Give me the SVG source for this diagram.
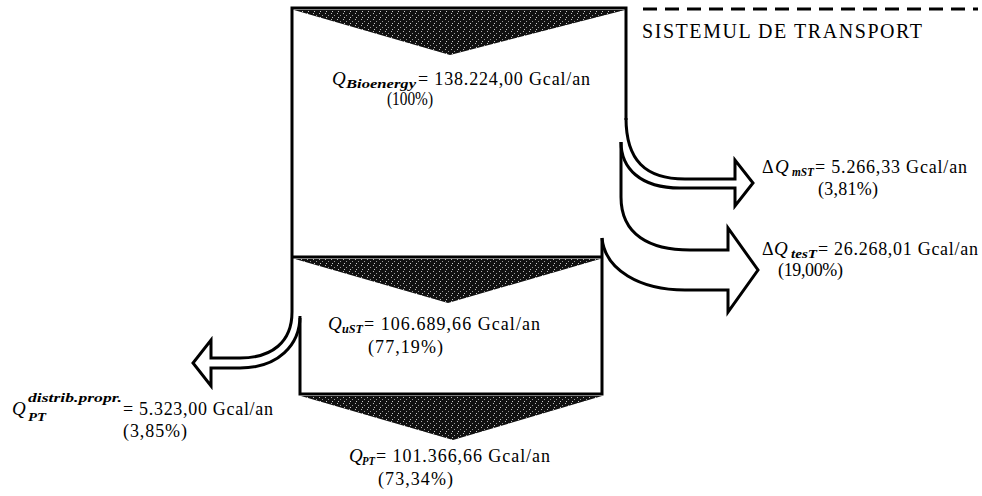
<svg xmlns="http://www.w3.org/2000/svg" width="982" height="496" viewBox="0 0 982 496">
<style>
  text { font-family: "Liberation Serif", "Times New Roman", serif; fill: #000; }
  .t { font-size: 18px; }
  .big { font-size: 20px; }
  .q { font-size: 19px; font-style: italic; }
  .sub { font-size: 13px; font-style: italic; font-weight: bold; }
  .ln { fill: none; stroke: #000; stroke-width: 3; stroke-linejoin: miter; stroke-linecap: butt; }
  .tri { fill: url(#stip); stroke: none; }
</style>
<defs>
  <pattern id="stip" width="6" height="6" patternUnits="userSpaceOnUse">
    <rect width="6" height="6" fill="#111"/>
    <rect x="1" y="1" width="1" height="1" fill="#bbb"/>
    <rect x="4" y="3" width="1" height="1" fill="#999"/>
    <rect x="2" y="5" width="1" height="1" fill="#ccc"/>
  </pattern>
</defs>
<rect width="982" height="496" fill="#fff"/>

<g id="transport-system">
  <path class="ln" d="M626,120 L626,8 L292,8 L292,312"/>
  <path d="M643,9 L978,9" fill="none" stroke="#000" stroke-width="3" stroke-dasharray="14 8"/>
  <polygon class="tri" points="294,10 625,10 450,55"/>
  <text class="big" x="642" y="38" textLength="280">SISTEMUL DE TRANSPORT</text>
  <text class="q" x="332" y="85">Q</text>
  <text class="sub" x="346" y="88" textLength="70" lengthAdjust="spacingAndGlyphs">Bioenergy</text>
  <text class="t" x="418" y="85" textLength="172">= 138.224,00 Gcal/an</text>
  <text class="t" x="387" y="105" textLength="46" lengthAdjust="spacingAndGlyphs">(100%)</text>
</g>

<g id="useful-transport">
  <path class="ln" d="M292,257 L602,257"/>
  <path class="ln" d="M300,318 L300,394 L602,394 L602,238"/>
  <polygon class="tri" points="295,259 600,259 448,303"/>
  <text class="q" x="328" y="330">Q</text>
  <text class="sub" x="342" y="333" textLength="21" lengthAdjust="spacingAndGlyphs">uST</text>
  <text class="t" x="364" y="330" textLength="176">= 106.689,66 Gcal/an</text>
  <text class="t" x="368" y="353" textLength="75">(77,19%)</text>
</g>

<g id="pt">
  <polygon class="tri" points="301,396 602,396 453,440"/>
  <text class="q" x="349" y="462">Q</text>
  <text class="sub" x="362" y="465" textLength="13" lengthAdjust="spacingAndGlyphs">PT</text>
  <text class="t" x="376" y="462" textLength="174">= 101.366,66 Gcal/an</text>
  <text class="t" x="378" y="485" textLength="75">(73,34%)</text>
</g>

<g id="loss-mst">
  <text class="t" x="762" y="173">Δ</text>
  <text class="q" x="775" y="173">Q</text>
  <text class="sub" x="792" y="176" textLength="22" lengthAdjust="spacingAndGlyphs">mST</text>
  <text class="t" x="815" y="173" textLength="152">= 5.266,33 Gcal/an</text>
  <text class="t" x="818" y="195" textLength="60">(3,81%)</text>
</g>

<g id="loss-test">
  <text class="t" x="762" y="255">Δ</text>
  <text class="q" x="774" y="255">Q</text>
  <text class="sub" x="791" y="258" textLength="26" lengthAdjust="spacingAndGlyphs">tesT</text>
  <text class="t" x="818" y="255" textLength="160">= 26.268,01 Gcal/an</text>
  <text class="t" x="778" y="276" textLength="65">(19,00%)</text>
</g>

<g id="distrib-propr">
  <text class="q" x="12" y="415">Q</text>
  <text class="sub" x="28" y="402" textLength="94" lengthAdjust="spacingAndGlyphs">distrib.propr.</text>
  <text class="sub" x="28" y="421" textLength="18" lengthAdjust="spacingAndGlyphs">PT</text>
  <text class="t" x="123" y="415" textLength="150">= 5.323,00 Gcal/an</text>
  <text class="t" x="123" y="437" textLength="64">(3,85%)</text>
</g>

<g id="connectors">
  <path class="ln" d="M626,118 C626,160 645,179 685,179 L735,179 L735,160 L753,183 L735,206 L735,188 L680,188 C640,188 621,168 621,142"/>
  <path class="ln" d="M621,142 L621,197 C621,235 650,250 690,250 L728,250 L728,228 L758,270 L728,312 L728,290 L685,290 C640,290 605,270 602,238"/>
  <path class="ln" d="M292,312 C292,342 272,358 240,358 L211,358 L211,340 L193,363 L211,386 L211,368 L240,368 C278,368 300,345 300,316"/>
</g>
</svg>
